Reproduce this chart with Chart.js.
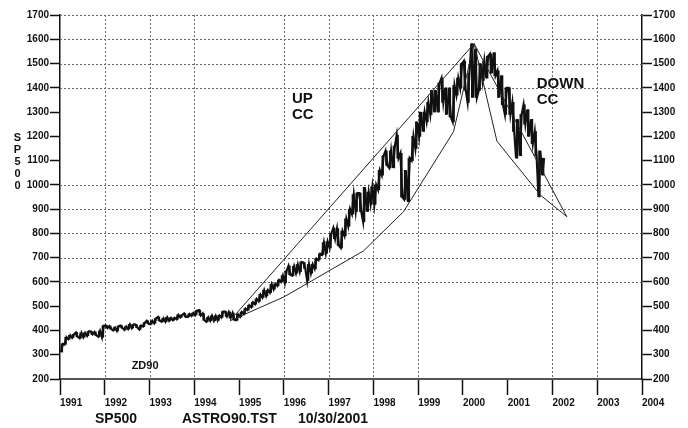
<!DOCTYPE html>
<html>
<head>
<meta charset="utf-8">
<script src="https://cdn.jsdelivr.net/npm/chart.js@4.4.0/dist/chart.umd.min.js"></script>
<style>
  body { margin: 0; background: #fff; }
  #wrap { width: 688px; height: 428px; }
</style>
</head>
<body>
<div id="wrap"><canvas id="spChart" width="688" height="428"></canvas></div>
<script>
// SP500 monthly low / high, Jan 1991 .. Oct 2001
const monthLow = [
  311, 343, 364, 370, 374, 368, 372, 378, 384, 380, 374, 372,   // 1991
  410, 406, 400, 398, 410, 402, 406, 410, 412, 404, 416, 428,   // 1992
  426, 430, 440, 436, 436, 440, 442, 446, 454, 456, 456, 460,   // 1993
  464, 462, 442, 436, 440, 440, 442, 454, 458, 452, 444, 442,   // 1994
  456, 468, 484, 496, 508, 520, 536, 542, 556, 570, 584, 600,   // 1995
  596, 630, 626, 636, 642, 656, 606, 636, 654, 690, 712, 718,   // 1996
  740, 778, 750, 740, 790, 830, 880, 890, 890, 848, 890, 920,   // 1997
  920, 980, 1040, 1080, 1070, 1070, 1110, 950, 940, 930, 1100, 1150,   // 1998
  1200, 1220, 1260, 1290, 1300, 1300, 1340, 1290, 1280, 1260, 1370, 1400,  // 1999
  1390, 1340, 1360, 1360, 1390, 1430, 1440, 1460, 1450, 1360, 1330, 1290,  // 2000
  1290, 1220, 1110, 1120, 1250, 1200, 1170, 1120, 950, 1040                // 2001
];
const monthHigh = [
  345, 372, 380, 384, 392, 390, 390, 396, 396, 394, 398, 420,
  421, 418, 412, 418, 420, 416, 425, 425, 424, 420, 432, 440,
  440, 450, 456, 450, 454, 452, 452, 464, 464, 470, 468, 472,
  482, 484, 470, 454, 460, 460, 462, 478, 478, 476, 472, 466,
  476, 490, 504, 516, 530, 548, 566, 566, 590, 592, 608, 626,
  646, 666, 664, 672, 682, 680, 672, 672, 696, 716, 762, 766,
  800, 822, 820, 810, 860, 900, 960, 966, 966, 990, 970, 992,
  1000, 1060, 1120, 1140, 1140, 1160, 1205, 1130, 1060, 1110, 1200, 1260,
  1300, 1300, 1340, 1390, 1390, 1420, 1440, 1400, 1400, 1410, 1440, 1500,
  1510, 1460, 1582, 1560, 1500, 1510, 1530, 1540, 1545, 1470, 1450, 1400,
  1400, 1340, 1270, 1290, 1330, 1310, 1270, 1220, 1140, 1110
];
const startYear = 1991;

// channel lines ("UP CC" / "DOWN CC")
const upOuterYears = [1994.91, 2000.25];
const upOuterValues = [464, 1582];
const upInnerYears = [1994.80, 1996.0, 1997.78, 1998.67, 1999.79, 2000.25];
const upInnerValues = [440, 538, 728, 889, 1219, 1582];
const downOuterYears = [2000.25, 2002.32];
const downOuterValues = [1582, 869];
const downInnerYears = [2000.25, 2000.76, 2001.73, 2002.32];
const downInnerValues = [1582, 1180, 958, 869];

// axes
const yearTicks = [1991, 2004];
const priceRange = [200, 1700];
const hiddenYearLines = [1991, 1995, 2000, 2001, 2004];
const hiddenPriceLines = [200, 300, 400, 500, 1100, 1200, 1300];

const notes = [
  { text: 'UP', x: 1996.18, y: 1337, size: 15 },
  { text: 'CC', x: 1996.18, y: 1271, size: 15 },
  { text: 'DOWN', x: 2001.65, y: 1399, size: 15 },
  { text: 'CC', x: 2001.65, y: 1333, size: 15 },
  { text: 'ZD90', x: 1992.6, y: 241, size: 11 }
];

// price band: one thin floating bar per month plus a low/high zigzag
const priceBars = [];
const pricePts = [];
monthLow.forEach((lo, k) => {
  const hi = monthHigh[k];
  const mid = (lo + hi) / 2;
  const nextMid = k + 1 < monthLow.length ? (monthLow[k + 1] + monthHigh[k + 1]) / 2 : mid;
  const first = nextMid >= mid ? lo : hi;
  const second = nextMid >= mid ? hi : lo;
  priceBars.push({ x: startYear + (k + 0.5) / 12, y: [lo, hi] });
  pricePts.push({ x: startYear + (k + 0.25) / 12, y: first });
  pricePts.push({ x: startYear + (k + 0.75) / 12, y: second });
});

const toPts = (xs, ys) => xs.map((x, i) => ({ x: x, y: ys[i] }));

const FONT = '"Liberation Sans", Arial, Helvetica, sans-serif';

// dotted grid, some lines left out like on the original print
const dottedGrid = {
  id: 'dottedGrid',
  beforeDatasetsDraw(chart) {
    const { ctx, chartArea: a, scales: { x, y } } = chart;
    ctx.save();
    ctx.strokeStyle = '#666';
    ctx.lineWidth = 1;
    ctx.setLineDash([2, 2]);
    ctx.beginPath();
    x.ticks.forEach(t => {
      if (hiddenYearLines.includes(t.value)) return;
      const px = Math.round(x.getPixelForValue(t.value)) + 0.5;
      ctx.moveTo(px, a.top);
      ctx.lineTo(px, a.bottom);
    });
    y.ticks.forEach(t => {
      if (hiddenPriceLines.includes(t.value)) return;
      const py = Math.round(y.getPixelForValue(t.value)) + 0.5;
      ctx.moveTo(a.left, py);
      ctx.lineTo(a.right, py);
    });
    ctx.stroke();
    ctx.restore();
  }
};

const extraText = {
  id: 'extraText',
  afterDraw(chart) {
    const { ctx, scales: { x, y } } = chart;
    ctx.save();
    ctx.fillStyle = '#111';
    ctx.textBaseline = 'alphabetic';
    notes.forEach(n => {
      ctx.font = 'bold ' + n.size + 'px ' + FONT;
      ctx.fillText(n.text, x.getPixelForValue(n.x), y.getPixelForValue(n.y));
    });
    // footer
    ctx.font = 'bold 14px ' + FONT;
    ctx.fillText('SP500', 95, 423);
    ctx.fillText('ASTRO90.TST', 182, 423);
    ctx.fillText('10/30/2001', 298, 423);
    // vertical axis name
    ctx.font = 'bold 11px ' + FONT;
    ctx.textAlign = 'center';
    'SP500'.split('').forEach((ch, i) => {
      ctx.fillText(ch, 17.5, 141 + i * 12);
    });
    ctx.restore();
  }
};

const tickFont = { family: FONT, size: 10, weight: 'bold' };

const ctx = document.getElementById('spChart').getContext('2d');
const spChart = new Chart(ctx, {
  type: 'line',
  data: {
    datasets: [
      { data: toPts(upOuterYears, upOuterValues), borderColor: '#222', borderWidth: 1 },
      { data: toPts(upInnerYears, upInnerValues), borderColor: '#222', borderWidth: 1 },
      { data: toPts(downOuterYears, downOuterValues), borderColor: '#222', borderWidth: 1 },
      { data: toPts(downInnerYears, downInnerValues), borderColor: '#222', borderWidth: 1 },
      { type: 'bar', data: priceBars, backgroundColor: '#111', borderWidth: 0, barThickness: 1.8 },
      { data: pricePts, borderColor: '#111', borderWidth: 2.2 }
    ]
  },
  options: {
    responsive: false,
    animation: false,
    events: [],
    layout: { padding: { top: 15, left: 0, right: 0, bottom: 0 } },
    elements: { point: { radius: 0 }, line: { tension: 0 } },
    plugins: { legend: { display: false }, tooltip: { enabled: false } },
    scales: {
      x: {
        type: 'linear',
        offset: false,
        min: yearTicks[0],
        max: yearTicks[1],
        afterFit: s => { s.height = 49; },
        ticks: {
          stepSize: 1,
          maxTicksLimit: 20,
          autoSkip: false,
          maxRotation: 0,
          align: 'start',
          padding: 2,
          color: '#111',
          font: tickFont,
          callback: v => String(v)
        },
        grid: {
          offset: false,
          drawOnChartArea: false,
          tickColor: '#111',
          tickWidth: 1.5,
          tickLength: 16
        },
        border: { display: true, color: '#555', width: 2 }
      },
      y: {
        position: 'left',
        min: priceRange[0],
        max: priceRange[1],
        afterFit: s => { s.width = 60; },
        ticks: {
          stepSize: 100,
          maxTicksLimit: 20,
          padding: 1,
          color: '#111',
          font: tickFont,
          callback: v => String(v)
        },
        grid: {
          drawOnChartArea: false,
          tickColor: '#111',
          tickWidth: 1.5,
          tickLength: 10
        },
        border: { display: true, color: '#111', width: 1.5 }
      },
      y2: {
        position: 'right',
        min: priceRange[0],
        max: priceRange[1],
        afterFit: s => { s.width = 46; },
        ticks: {
          stepSize: 100,
          maxTicksLimit: 20,
          padding: 1,
          color: '#111',
          font: tickFont,
          callback: v => String(v)
        },
        grid: {
          drawOnChartArea: false,
          tickColor: '#111',
          tickWidth: 1.5,
          tickLength: 10
        },
        border: { display: true, color: '#111', width: 1.5 }
      }
    }
  },
  plugins: [dottedGrid, extraText]
});
</script>
</body>
</html>
